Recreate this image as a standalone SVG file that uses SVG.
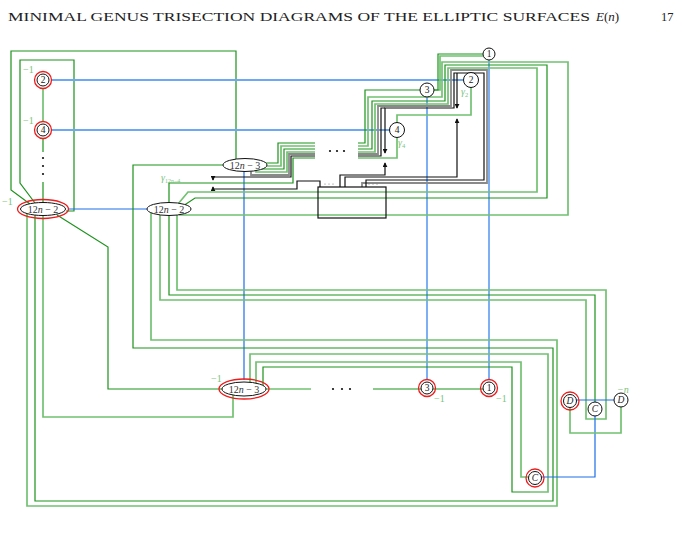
<svg xmlns="http://www.w3.org/2000/svg" width="683" height="537" viewBox="0 0 683 537">
<style>
.g{stroke:#1c921c;stroke-width:1.2;fill:none}
.lg{stroke:#72c172;stroke-width:1.7;fill:none}
.b{stroke:#1c6ee8;stroke-width:1.2;fill:none}
.lb{stroke:#6ea8f2;stroke-width:1.8;fill:none}
.k{stroke:#111;stroke-width:1.2;fill:none}
.gr{stroke:#8a8a8a;stroke-width:1.8;fill:none}
.ring{stroke:#ee1c1c;stroke-width:1.3;fill:none}
.nd{stroke:#111;stroke-width:1;fill:#fff}
.t{font-family:"Liberation Serif",serif;font-size:10px;fill:#333;text-anchor:middle}
.tc{font-family:"Liberation Serif",serif;font-size:9.5px;fill:#222;text-anchor:middle}
.lab{font-family:"Liberation Serif",serif;font-size:10px;fill:#7cc47c}
.dot{fill:#111}
.hd{font-family:"Liberation Serif",serif;fill:#222}
</style>
<defs>
<marker id="ar" viewBox="0 0 6 6" refX="5" refY="3" markerWidth="5" markerHeight="5" markerUnits="userSpaceOnUse" orient="auto"><path d="M0,0 L6,3 L0,6 z" fill="#111"/></marker>
</defs>
<rect width="683" height="537" fill="#fff"/>
<text class="hd" x="8" y="21" font-size="11.5" textLength="582" lengthAdjust="spacingAndGlyphs">MINIMAL GENUS TRISECTION DIAGRAMS OF THE ELLIPTIC SURFACES</text>
<text class="hd" x="596" y="21" font-size="13"><tspan font-style="italic">E</tspan>(<tspan font-style="italic">n</tspan>)</text>
<text class="hd" x="661" y="21" font-size="12.5">17</text>

<g id="connectors">
<path class="lg" d="M43,88 V122"/>
<path class="g" d="M43,138 V152"/>
<path class="g" d="M43,182 V205"/>
<path class="g" d="M236,160 V51 H11 V190 L30,204"/>
<path class="g" d="M66,211 H74 V60 H20 V183 L35,203"/>
<path class="b" d="M68,209 H147"/>
<path class="lb" d="M51,80 H463"/>
<path class="lb" d="M51,130 H389"/>
<path class="b" d="M244,171 V380"/>
<path class="lb" d="M427,97 V380"/>
<path class="lb" d="M489,60 V380"/>
<path class="g" d="M223,165 H133 V348 H553 V501 H35 V212"/>
<path class="lg" d="M151,209 V340 H557 V506 H27 V212"/>
<path class="lg" d="M160,209 V300 H586 V419 H606 V290 H177 V209"/>
<path class="g" d="M169,209 V295 H595 V409"/>
<path class="lg" d="M180,212 V215 H568 V62 H442 V97 H368 V146 H358"/>
<path class="g" d="M183,206 L195,198 H547 V65 H445 V101 H372 V149 H358"/>
<path class="lg" d="M178,204 L188,192 H537 V68 H448 V104 H375 V152 H358"/>
<path class="gr" d="M358,154 H378 V106 H451 V70 H487 V183 H362 V187"/>
<path class="k" d="M366,187 V180 H484 V73 H454 V108 H385 V153" marker-end="url(#ar)"/>
<path class="k" d="M358,156 H381 V108 H385"/>
<path class="k" d="M457,73 V108" marker-end="url(#ar)"/>
<path class="k" d="M345,187 V177 H457 V119" marker-end="url(#ar)"/>
<path class="k" d="M340,187 V175 H385 V163" marker-end="url(#ar)"/>
<path class="lg" d="M397,137 V158 H358"/>
<path class="lg" d="M471,87 V115 H397 V123"/>
<path class="g" d="M358,143 H365 V90 H420"/>
<path class="lg" d="M483,56 H440 V90 H434"/>
<path class="g" d="M483,54 H438 V90 H434"/>
<path class="g" d="M262,163 H278 V143 H315"/>
<path class="lg" d="M264,166 H281 V146 H315"/>
<path class="g" d="M262,169 H284 V149 H315"/>
<path class="lg" d="M256,171 V172 H287 V152 H315"/>
<path class="gr" d="M251,171 V175 H289 V154 H315"/>
<path class="k" d="M315,156 H291 V177 H213 V180" marker-end="url(#ar)"/>
<path class="g" d="M169,203 V183 H293 V158 H315"/>
<path class="k" d="M320,187 V181 H297 V189 H213 V187" marker-end="url(#ar)"/>
<path class="lg" d="M250,389 V354 H548 V492 H530"/>
<path class="g" d="M530,492 H512 V367 H263 V389"/>
<path class="lg" d="M256,389 V362 H521 V477 H535"/>
<path class="lg" d="M43,209 V417 H233 V389"/>
<path class="g" d="M57,215 L108,247 V389 H244"/>
<path class="lg" d="M244,389 H311"/>
<path class="g" d="M373,389 H489"/>
<path class="b" d="M570,400 H621"/>
<path class="b" d="M595,409 V477 H535"/>
<path class="lg" d="M570,401 V433 H621 V400"/>
<rect x="318" y="187" width="68" height="31" fill="none" stroke="#111" stroke-width="1.2"/>
</g>

<g id="dots">
<circle class="dot" cx="43" cy="158" r="1.1"/><circle class="dot" cx="43" cy="166" r="1.1"/><circle class="dot" cx="43" cy="174" r="1.1"/>
<circle class="dot" cx="330" cy="151" r="1.1"/><circle class="dot" cx="337" cy="151" r="1.1"/><circle class="dot" cx="344" cy="151" r="1.1"/>
<circle class="dot" cx="333" cy="389" r="1.1"/><circle class="dot" cx="342" cy="389" r="1.1"/><circle class="dot" cx="350" cy="389" r="1.1"/>
<circle cx="325" cy="184" r="0.6" fill="#777"/><circle cx="329" cy="184" r="0.6" fill="#777"/><circle cx="333" cy="184" r="0.6" fill="#777"/>
<circle cx="369" cy="184" r="0.6" fill="#777"/><circle cx="373" cy="184" r="0.6" fill="#777"/><circle cx="377" cy="184" r="0.6" fill="#777"/>
</g>

<g id="n-c2L"><circle class="nd" cx="43" cy="80" r="6"/><circle class="ring" cx="43" cy="80" r="8.5"/><text class="tc" x="43" y="83.3">2</text></g>
<g id="n-c4L"><circle class="nd" cx="43" cy="130" r="6"/><circle class="ring" cx="43" cy="130" r="8.5"/><text class="tc" x="43" y="133.3">4</text></g>
<g id="n-e1"><ellipse class="nd" cx="43" cy="209" rx="22.5" ry="6.5"/><ellipse class="ring" cx="43" cy="209" rx="25.5" ry="9.5"/><text class="t" x="43" y="212.5">12<tspan font-style="italic">n</tspan> − 2</text></g>
<g id="n-e2"><ellipse class="nd" cx="169" cy="209" rx="22" ry="6.5"/><text class="t" x="169" y="212.5">12<tspan font-style="italic">n</tspan> − 2</text></g>
<g id="n-e3"><ellipse class="nd" cx="245" cy="165" rx="22" ry="6.5"/><text class="t" x="245" y="168.5">12<tspan font-style="italic">n</tspan> − 3</text></g>
<g id="n-e4"><ellipse class="nd" cx="244" cy="389" rx="22" ry="7"/><ellipse class="ring" cx="244" cy="389" rx="25" ry="10"/><text class="t" x="244" y="392.5">12<tspan font-style="italic">n</tspan> − 3</text></g>
<g id="n-c3B"><circle class="nd" cx="427" cy="388" r="6"/><circle class="ring" cx="427" cy="388" r="8.5"/><text class="tc" x="427" y="391.3">3</text></g>
<g id="n-c1B"><circle class="nd" cx="489" cy="388" r="6"/><circle class="ring" cx="489" cy="388" r="8.5"/><text class="tc" x="489" y="391.3">1</text></g>
<g id="n-c1T"><circle class="nd" cx="489" cy="54" r="6"/><text class="tc" x="489" y="57.3">1</text></g>
<g id="n-c2T"><circle class="nd" cx="471" cy="80" r="7.5"/><text class="tc" x="471" y="83.3">2</text></g>
<g id="n-c3T"><circle class="nd" cx="427" cy="90" r="7"/><text class="tc" x="427" y="93.3">3</text></g>
<g id="n-c4T"><circle class="nd" cx="397" cy="130" r="7.5"/><text class="tc" x="397" y="133.3">4</text></g>
<g id="n-D1"><circle class="nd" cx="570" cy="401" r="6.5"/><circle class="ring" cx="570" cy="401" r="9"/><text class="tc" x="570" y="404.3" font-style="italic">D</text></g>
<g id="n-C1"><circle class="nd" cx="595" cy="409" r="7"/><text class="tc" x="595" y="412.3" font-style="italic">C</text></g>
<g id="n-D2"><circle class="nd" cx="621" cy="400" r="7"/><text class="tc" x="621" y="403.3" font-style="italic">D</text></g>
<g id="n-C2"><circle class="nd" cx="535" cy="478" r="6.5"/><circle class="ring" cx="535" cy="478" r="9"/><text class="tc" x="535" y="481.3" font-style="italic">C</text></g>

<g id="labels">
<text class="lab" x="23" y="73">−1</text>
<text class="lab" x="23" y="124">−1</text>
<text class="lab" x="2" y="205">−1</text>
<text class="lab" x="211" y="382">−1</text>
<text class="lab" x="434" y="402">−1</text>
<text class="lab" x="496" y="402">−1</text>
<text class="lab" x="617" y="393" font-style="italic">−n</text>
<text class="lab" x="461" y="95" font-style="italic">γ<tspan font-size="6.5" dy="2" font-style="normal">2</tspan></text>
<text class="lab" x="398" y="146" font-style="italic">γ<tspan font-size="6.5" dy="2" font-style="normal">4</tspan></text>
<text class="lab" x="161" y="181" font-style="italic">γ<tspan font-size="6" dy="1.5" font-style="normal">12n−4</tspan></text>
</g>
</svg>
